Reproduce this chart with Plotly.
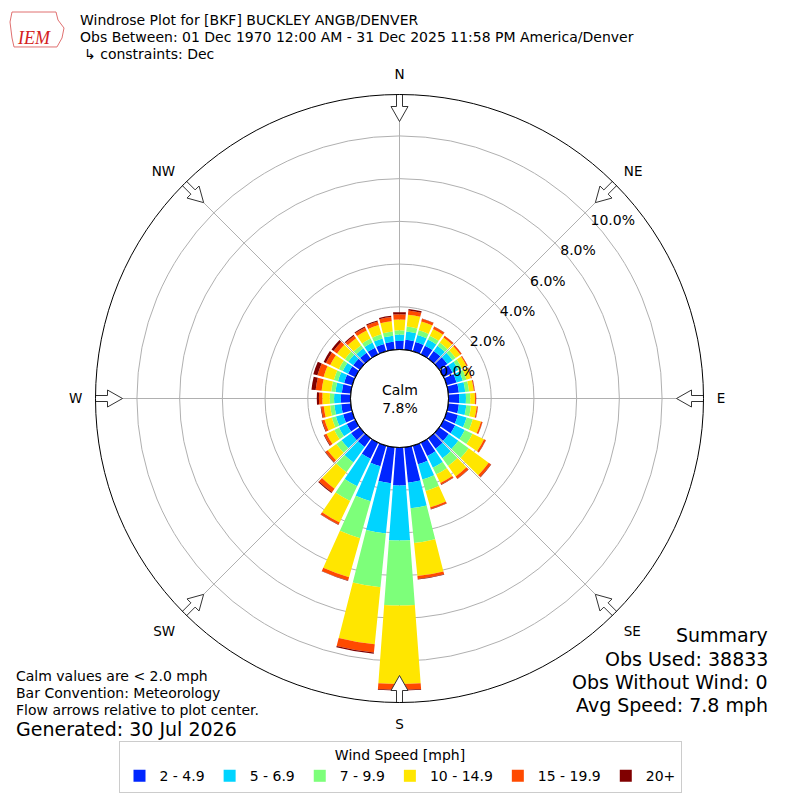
import math
import plotly.graph_objects as go

# ---------------- data (percent of observations) ----------------
directions = list(range(0, 360, 10))
speed_bins = ["2 - 4.9", "5 - 6.9", "7 - 9.9", "10 - 14.9", "15 - 19.9", "20+"]
bin_colors = ["#0026ff", "#00d4ff", "#7dff7a", "#ffe600", "#ff4a00", "#800000"]

pct_2_5 = [0.40, 0.47, 0.45, 0.45, 0.45, 0.47, 0.47, 0.48, 0.50, 0.50, 0.50, 0.55,
           0.60, 0.55, 0.60, 0.70, 0.90, 1.67, 1.78, 1.69, 1.00, 0.84, 0.50, 0.50,
           0.45, 0.45, 0.45, 0.45, 0.42, 0.40, 0.38, 0.38, 0.35, 0.35, 0.36, 0.38]
pct_5_7 = [0.30, 0.39, 0.35, 0.32, 0.30, 0.30, 0.30, 0.30, 0.30, 0.32, 0.35, 0.42,
           0.50, 0.55, 0.55, 0.60, 0.75, 1.20, 2.58, 2.37, 1.70, 1.43, 0.90, 0.55,
           0.40, 0.35, 0.32, 0.32, 0.30, 0.30, 0.28, 0.28, 0.25, 0.27, 0.27, 0.28]
pct_7_10 = [0.20, 0.23, 0.22, 0.20, 0.18, 0.18, 0.18, 0.18, 0.18, 0.20, 0.22, 0.30,
            0.40, 0.60, 0.45, 0.35, 0.55, 1.63, 3.04, 2.53, 1.80, 0.76, 0.56, 0.30,
            0.25, 0.20, 0.20, 0.20, 0.20, 0.20, 0.20, 0.20, 0.18, 0.20, 0.20, 0.20]
pct_10_15 = [0.50, 0.56, 0.43, 0.35, 0.30, 0.27, 0.24, 0.22, 0.22, 0.22, 0.27, 0.40,
             0.60, 1.15, 0.60, 0.45, 0.80, 1.56, 3.67, 2.68, 1.90, 1.12, 0.95, 0.50,
             0.40, 0.35, 0.30, 0.35, 0.45, 0.50, 0.45, 0.45, 0.40, 0.42, 0.45, 0.48]
pct_15_20 = [0.25, 0.20, 0.13, 0.11, 0.09, 0.07, 0.05, 0.04, 0.04, 0.05, 0.05, 0.07,
             0.09, 0.13, 0.13, 0.08, 0.08, 0.14, 0.28, 0.39, 0.16, 0.11, 0.20, 0.13,
             0.12, 0.12, 0.12, 0.16, 0.28, 0.30, 0.22, 0.20, 0.15, 0.16, 0.17, 0.20]
pct_20p = [0.10, 0.07, 0.02, 0.02, 0.01, 0.01, 0.01, 0.01, 0.01, 0.01, 0.01, 0.01,
           0.01, 0.02, 0.02, 0.02, 0.02, 0.02, 0.03, 0.06, 0.02, 0.02, 0.05, 0.02,
           0.03, 0.03, 0.03, 0.10, 0.20, 0.20, 0.12, 0.12, 0.05, 0.05, 0.05, 0.06]
series = [pct_2_5, pct_5_7, pct_7_10, pct_10_15, pct_15_20, pct_20p]

radial_ticks = [0, 2, 4, 6, 8, 10]
compass_angles = [0, 45, 90, 135, 180, 225, 270, 315]
compass_labels = ["N", "NE", "E", "SE", "S", "SW", "W", "NW"]
calm_pct = 7.8

# ---------------- geometry constants (pixels) ----------------
R_MAX = 11.94          # radial range max (percent)
OUTER_PX = 304.0       # outer circle radius in px
HOLE_PX = 49.0         # hole radius in px
PX_PER_PCT = (OUTER_PX - HOLE_PX) / R_MAX
FONT = "DejaVu Sans"

fig = go.Figure()

for name, vals, col in zip(speed_bins, series, bin_colors):
    fig.add_trace(go.Barpolar(
        r=vals, theta=directions, width=8.5, name=name,
        marker=dict(color=col, line=dict(width=0)),
    ))

# hole border
ring_theta = list(range(0, 361, 3))
fig.add_trace(go.Scatterpolar(
    r=[0] * len(ring_theta), theta=ring_theta, mode="lines",
    line=dict(color="black", width=1.2), showlegend=False, hoverinfo="skip"))

# flow arrows (hollow, pointing inward)
def arrow(theta):
    outline = [(OUTER_PX + 2, -3), (OUTER_PX - 12, -3), (OUTER_PX - 12, -8.5),
               (OUTER_PX - 27, 0), (OUTER_PX - 12, 8.5), (OUTER_PX - 12, 3),
               (OUTER_PX + 2, 3), (OUTER_PX + 2, -3)]
    rr, tt = [], []
    for a, b in outline:
        rad = math.hypot(a, b)
        rr.append((rad - HOLE_PX) / PX_PER_PCT)
        tt.append(theta + math.degrees(math.atan2(b, a)))
    return rr, tt

for ang in compass_angles:
    rr, tt = arrow(ang)
    fig.add_trace(go.Scatterpolar(
        r=rr, theta=tt, mode="lines", fill="toself", fillcolor="white",
        line=dict(color="#333333", width=1), cliponaxis=False,
        showlegend=False, hoverinfo="skip"))

fig.update_layout(
    width=800, height=800, autosize=False,
    margin=dict(l=0, r=0, t=0, b=0),
    paper_bgcolor="white", plot_bgcolor="white",
    font=dict(family=FONT, size=13, color="black"),
    polar=dict(
        domain=dict(x=[(399.5 - OUTER_PX) / 800, (399.5 + OUTER_PX) / 800],
                    y=[1 - (398.5 + OUTER_PX) / 800, 1 - (398.5 - OUTER_PX) / 800]),
        hole=HOLE_PX / OUTER_PX,
        bgcolor="white",
        barmode="stack",
        radialaxis=dict(
            range=[0, R_MAX], tickvals=radial_ticks,
            ticktext=[f"{v:.1f}%" for v in radial_ticks],
            angle=45, tickangle=45, side="clockwise",
            showline=False, ticks="", showgrid=True,
            gridcolor="#b0b0b0", gridwidth=1,
            tickfont=dict(family=FONT, size=14, color="black"),
        ),
        angularaxis=dict(
            rotation=90, direction="clockwise",
            tickmode="array", tickvals=compass_angles, ticktext=compass_labels,
            showgrid=True, gridcolor="#b0b0b0", gridwidth=1,
            showline=True, linecolor="black", linewidth=1,
            ticks="outside", ticklen=10, tickcolor="rgba(0,0,0,0)",
            tickfont=dict(family=FONT, size=13.5, color="black"),
        ),
    ),
    legend=dict(
        orientation="h", x=0.5, xanchor="center", y=1 - 741 / 800, yanchor="top",
        bordercolor="#cccccc", borderwidth=1, bgcolor="white",
        title=dict(text="Wind Speed [mph]", side="top center",
                   font=dict(family=FONT, size=14)),
        font=dict(family=FONT, size=14),
        traceorder="normal",
    ),
    showlegend=True,
)

def px(x, y):
    return x / 800, 1 - y / 800

annotations = []
def add_text(text, x, y, size=14, xanchor="left", yanchor="middle", **kw):
    ax, ay = px(x, y)
    annotations.append(dict(text=text, x=ax, y=ay, xref="paper", yref="paper",
                            xanchor=xanchor, yanchor=yanchor, showarrow=False,
                            font=dict(family=kw.get("family", FONT), size=size,
                                      color=kw.get("color", "black"))))

add_text("Windrose Plot for [BKF] BUCKLEY ANGB/DENVER", 78, 20)
add_text("Obs Between: 01 Dec 1970 12:00 AM - 31 Dec 2025 11:58 PM America/Denver", 78, 37)
add_text("\u21b3 constraints: Dec", 82, 54)
add_text(f"Calm<br>{calm_pct:.1f}%", 400, 399, size=14, xanchor="center")
add_text("Calm values are &lt; 2.0 mph", 14, 676)
add_text("Bar Convention: Meteorology", 14, 693)
add_text("Flow arrows relative to plot center.", 14, 710)
add_text("Generated: 30 Jul 2026", 14, 729, size=19)
add_text("Summary", 770, 635, size=19, xanchor="right")
add_text("Obs Used: 38833", 770, 659, size=19, xanchor="right")
add_text("Obs Without Wind: 0", 770, 682, size=19, xanchor="right")
add_text("Avg Speed: 7.8 mph", 770, 705, size=19, xanchor="right")
add_text("<i>IEM</i>", 34, 38, size=18, xanchor="center", family="Liberation Serif", color="#d42020")
fig.update_layout(annotations=annotations)

# IEM logo outline (decorative)
logo = [(12, 12), (56, 12), (58, 20), (64, 28), (62, 38), (57, 47), (14, 47), (12, 38), (10, 22)]
path = "M " + " L ".join(f"{px(x, y)[0]:.4f},{px(x, y)[1]:.4f}" for x, y in logo) + " Z"
fig.add_shape(type="path", path=path, xref="paper", yref="paper",
              line=dict(color="#e07070", width=1))

fig.write_html("out.html", config={"displayModeBar": False},
               post_script="document.body.style.margin='0px';")
